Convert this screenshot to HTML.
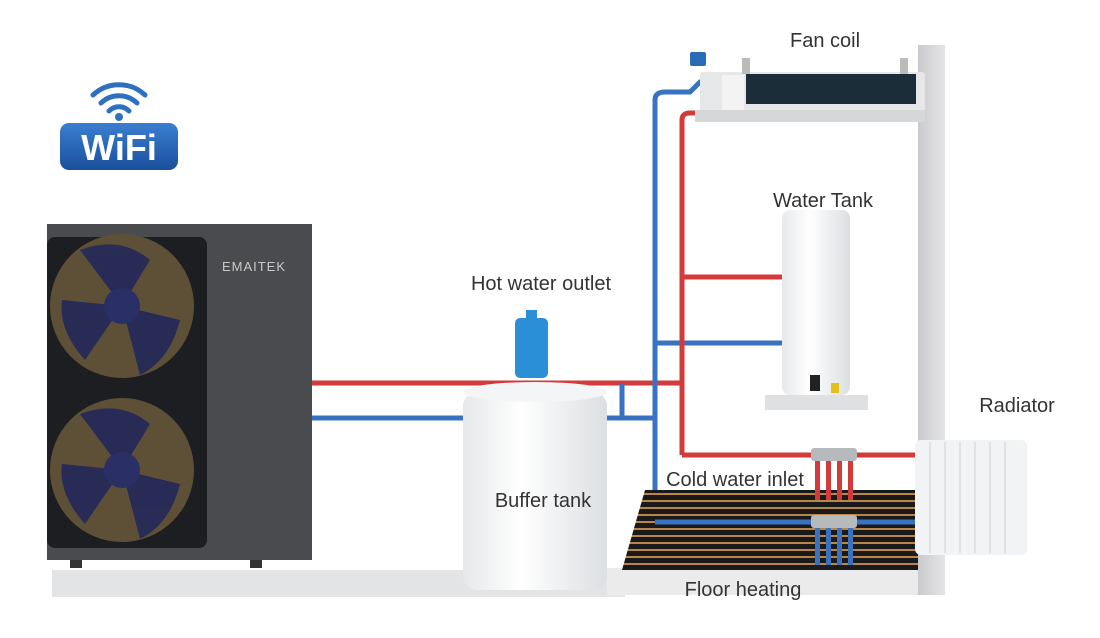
<!DOCTYPE html>
<html><head><meta charset="utf-8"><style>
html,body{margin:0;padding:0;background:#fff;}
svg{display:block;}
text{font-family:"Liberation Sans",sans-serif;fill:#333;}
</style></head><body>
<svg width="1100" height="638" viewBox="0 0 1100 638" xmlns="http://www.w3.org/2000/svg">
<defs>
<linearGradient id="wb" x1="0" y1="0" x2="0" y2="1"><stop offset="0" stop-color="#3b7fd0"/><stop offset="1" stop-color="#1a4f9c"/></linearGradient>
<linearGradient id="tank" x1="0" y1="0" x2="1" y2="0"><stop offset="0" stop-color="#e6e8ea"/><stop offset=".4" stop-color="#fff"/><stop offset="1" stop-color="#dcdfe2"/></linearGradient>
<linearGradient id="wall" x1="0" y1="0" x2="1" y2="0"><stop offset="0" stop-color="#c9cacc"/><stop offset="1" stop-color="#e4e5e6"/></linearGradient>
<pattern id="fh" width="14" height="14" patternUnits="userSpaceOnUse"><rect width="14" height="14" fill="#1a1a1a"/><path d="M0 4H14M0 11H14" stroke="#b8864a" stroke-width="2"/></pattern>
</defs>
<!-- WiFi -->
<g fill="none" stroke="#2f6fc0" stroke-width="5" stroke-linecap="round">
<path d="M93 95 A38 38 0 0 1 145 95"/><path d="M101 103 A26 26 0 0 1 137 103"/><path d="M109 111 A14 14 0 0 1 129 111"/>
</g>
<circle cx="119" cy="117" r="4" fill="#2f6fc0"/>
<rect x="60" y="123" width="118" height="47" rx="9" fill="url(#wb)"/>
<text x="119" y="160" text-anchor="middle" font-size="36" font-weight="bold" style="fill:#fff">WiFi</text>
<!-- floor slab -->
<rect x="52" y="570" width="573" height="27" fill="#e3e4e5"/>
<rect x="607" y="568" width="330" height="27" fill="#ebebec"/>
<!-- wall -->
<rect x="918" y="45" width="27" height="550" fill="url(#wall)"/>
<!-- pipes -->
<g fill="none" stroke-width="5">
<path d="M312 383H680" stroke="#d33a3a"/>
<path d="M312 418H470M605 418H655" stroke="#3a72c2"/>
<path d="M655 520V100Q655 92 665 92H690L700 82H722" stroke="#3a72c2"/>
<path d="M655 343H782" stroke="#3a72c2"/>
<path d="M655 522H918" stroke="#3a72c2"/>
<path d="M682 455V120Q682 113 690 113H705L715 103H722" stroke="#d33a3a"/>
<path d="M682 277H782" stroke="#d33a3a"/>
<path d="M682 455H918" stroke="#d33a3a"/>
<path d="M622 383V420" stroke="#3a72c2"/>
</g>
<!-- floor heating -->
<polygon points="645,490 918,490 918,570 622,570" fill="url(#fh)"/>
<path d="M655 522H918" stroke="#3a72c2" stroke-width="5"/>
<!-- manifold -->
<g>
<rect x="815" y="455" width="5" height="45" fill="#d33a3a"/><rect x="826" y="455" width="5" height="45" fill="#d33a3a"/><rect x="837" y="455" width="5" height="45" fill="#d33a3a"/><rect x="848" y="455" width="5" height="45" fill="#d33a3a"/>
<rect x="815" y="520" width="5" height="45" fill="#3a72c2"/><rect x="826" y="520" width="5" height="45" fill="#3a72c2"/><rect x="837" y="520" width="5" height="45" fill="#3a72c2"/><rect x="848" y="520" width="5" height="45" fill="#3a72c2"/>
<rect x="811" y="448" width="46" height="13" rx="3" fill="#b7babd"/>
<rect x="811" y="515" width="46" height="13" rx="3" fill="#b7babd"/>
</g>
<!-- heat pump -->
<rect x="47" y="224" width="265" height="336" fill="#4a4b4e"/>
<rect x="47" y="237" width="160" height="311" rx="8" fill="#1d1e21"/>
<circle cx="122" cy="306" r="72" fill="#5e5036"/>
<circle cx="122" cy="470" r="72" fill="#5e5036"/>
<g fill="#23285a" opacity=".9">
<path d="M122 306 L80 250 Q120 235 150 260Z"/><path d="M122 306 L180 320 Q170 360 140 375Z"/><path d="M122 306 L85 360 Q58 330 62 300Z"/>
<path d="M122 470 L80 414 Q120 399 150 424Z"/><path d="M122 470 L180 484 Q170 524 140 539Z"/><path d="M122 470 L85 524 Q58 494 62 464Z"/>
</g>
<circle cx="122" cy="306" r="18" fill="#2a2f66"/><circle cx="122" cy="470" r="18" fill="#2a2f66"/>
<text x="254" y="271" text-anchor="middle" font-size="13" style="fill:#c9c9c9;letter-spacing:1px">EMAITEK</text>
<rect x="70" y="560" width="12" height="8" fill="#333"/><rect x="250" y="560" width="12" height="8" fill="#333"/>
<!-- buffer tank -->
<rect x="463" y="392" width="144" height="198" rx="14" fill="url(#tank)"/>
<ellipse cx="535" cy="392" rx="72" ry="10" fill="#f4f5f6"/>
<rect x="515" y="318" width="33" height="60" rx="5" fill="#2b8fd8"/>
<rect x="526" y="310" width="11" height="10" fill="#2b8fd8"/>
<!-- fan coil -->
<rect x="700" y="72" width="225" height="50" rx="3" fill="#e6e7e9"/>
<rect x="746" y="74" width="170" height="30" fill="#1c2d3a"/>
<rect x="722" y="75" width="22" height="35" fill="#f3f3f3"/>
<rect x="695" y="110" width="230" height="12" fill="#d6d7d9"/>
<rect x="742" y="58" width="8" height="16" fill="#bbb"/><rect x="900" y="58" width="8" height="16" fill="#bbb"/>
<rect x="690" y="52" width="16" height="14" rx="2" fill="#2a6bb5"/>
<!-- water tank -->
<rect x="782" y="210" width="68" height="185" rx="8" fill="url(#tank)"/>
<rect x="765" y="395" width="103" height="15" fill="#dfe0e2"/>
<rect x="810" y="375" width="10" height="16" fill="#222"/><rect x="831" y="383" width="8" height="10" fill="#e2c21a"/>
<!-- radiator -->
<rect x="915" y="440" width="112" height="115" rx="6" fill="#f2f3f4"/>
<g stroke="#dadbdd" stroke-width="1.5"><path d="M930 442V553M945 442V553M960 442V553M975 442V553M990 442V553M1005 442V553"/></g>
<!-- labels -->
<g font-size="20">
<text x="825" y="47" text-anchor="middle">Fan coil</text>
<text x="823" y="207" text-anchor="middle">Water Tank</text>
<text x="541" y="290" text-anchor="middle">Hot water outlet</text>
<text x="1017" y="412" text-anchor="middle">Radiator</text>
<text x="735" y="486" text-anchor="middle">Cold water inlet</text>
<text x="543" y="507" text-anchor="middle">Buffer tank</text>
<text x="743" y="596" text-anchor="middle">Floor heating</text>
</g>
</svg>
</body></html>
